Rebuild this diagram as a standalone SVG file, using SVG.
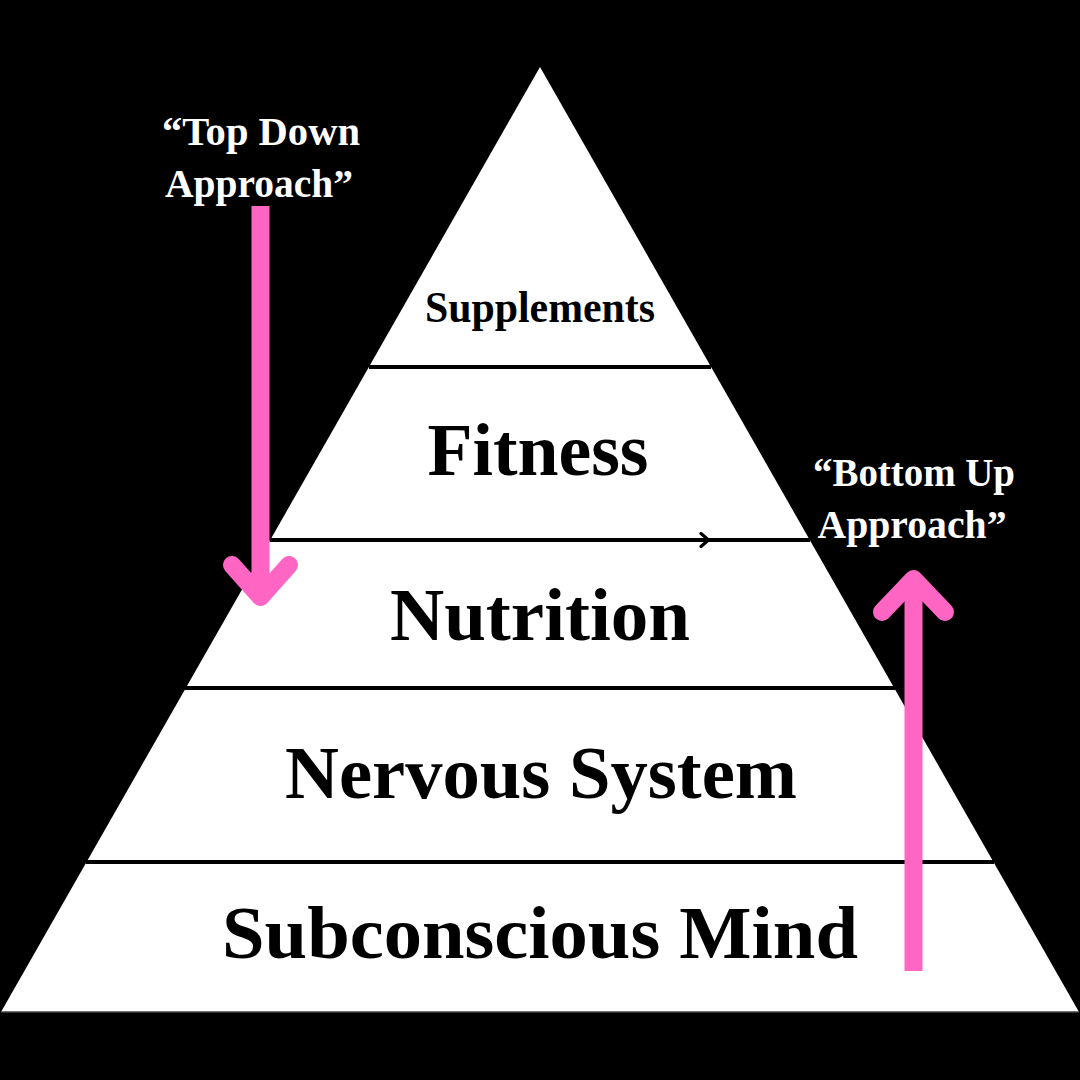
<svg xmlns="http://www.w3.org/2000/svg" width="1080" height="1080" viewBox="0 0 1080 1080">
  <defs>
    <style>
      .lbl { font-family: "Liberation Serif", "DejaVu Serif", serif; font-weight: bold; fill: #000; text-anchor: middle; }
      .note { font-family: "Liberation Serif", "DejaVu Serif", serif; font-weight: bold; fill: #fff; text-anchor: middle; font-size: 40px; }
      .tier { stroke: #000; stroke-width: 4; }
      .pink { stroke: #FF66C4; fill: none; stroke-width: 18; }
    </style>
    <marker id="chev" viewBox="0 0 12 16" refX="6" refY="8" markerWidth="12" markerHeight="16" markerUnits="userSpaceOnUse" orient="auto">
      <path d="M2,1.5 L9.5,8 L2,14.5" fill="none" stroke="#000" stroke-width="3.2" stroke-linecap="round" stroke-linejoin="round"/>
    </marker>
  </defs>
  <rect width="1080" height="1080" fill="#000"/>
  <g id="pyramid">
    <polygon points="540,67 1,1012 1079,1012" fill="#fff"/>
    <line x1="1" y1="1012" x2="1079" y2="1012" stroke="#444" stroke-width="1.5"/>
    <line class="tier" x1="369" y1="367" x2="711" y2="367"/>
    <line class="tier" x1="185" y1="688" x2="895" y2="688"/>
    <line class="tier" x1="86" y1="862" x2="994" y2="862"/>
  </g>
  <g id="connectors">
    <path d="M270,540 L705,540" fill="none" stroke="#000" stroke-width="4" marker-end="url(#chev)"/>
    <line x1="703" y1="540" x2="810" y2="540" stroke="#000" stroke-width="4"/>
  </g>
  <g id="node-supplements"><text class="lbl" x="540" y="322" font-size="44" textLength="230" lengthAdjust="spacingAndGlyphs">Supplements</text></g>
  <g id="node-fitness"><text class="lbl" x="538" y="475" font-size="75" textLength="221" lengthAdjust="spacingAndGlyphs">Fitness</text></g>
  <g id="node-nutrition"><text class="lbl" x="540" y="640" font-size="74" textLength="300" lengthAdjust="spacingAndGlyphs">Nutrition</text></g>
  <g id="node-nervous"><text class="lbl" x="541" y="798" font-size="74" textLength="512" lengthAdjust="spacingAndGlyphs">Nervous System</text></g>
  <g id="node-subconscious"><text class="lbl" x="540" y="958" font-size="74" textLength="636" lengthAdjust="spacingAndGlyphs">Subconscious Mind</text></g>
  <g id="top-down">
    <text class="note" x="261" y="145" textLength="198" lengthAdjust="spacingAndGlyphs">“Top Down</text>
    <text class="note" x="259" y="197" textLength="188" lengthAdjust="spacingAndGlyphs">Approach”</text>
    <line class="pink" x1="260.5" y1="206" x2="260.5" y2="594" stroke-linecap="butt"/>
    <path class="pink" d="M232,565 L260.5,597 L289,565" stroke-width="20" stroke-linecap="round" stroke-linejoin="round"/>
  </g>
  <g id="bottom-up">
    <text class="note" x="914" y="486" textLength="202" lengthAdjust="spacingAndGlyphs">“Bottom Up</text>
    <text class="note" x="912" y="538" textLength="189" lengthAdjust="spacingAndGlyphs">Approach”</text>
    <line class="pink" x1="913.5" y1="971" x2="913.5" y2="582" stroke-width="19" stroke-linecap="butt"/>
    <path class="pink" d="M882,612 L913.5,579 L945,612" stroke-width="20" stroke-linecap="round" stroke-linejoin="round"/>
  </g>
</svg>
